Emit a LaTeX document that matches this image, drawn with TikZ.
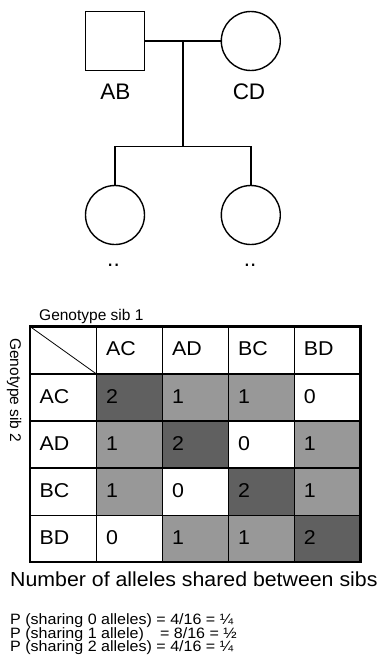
\documentclass[tikz,border=0pt]{standalone}
\usepackage{fontspec}
\setmainfont{Liberation Sans}
\definecolor{shareTwo}{RGB}{96,96,96}
\definecolor{shareOne}{RGB}{152,152,152}
\begin{document}
\begin{tikzpicture}[x=1pt,y=-1pt,
  pedline/.style={draw=black, line width=1.4pt},
  male/.style={pedline, rectangle, minimum width=59.5pt, minimum height=59.5pt, inner sep=0pt},
  female/.style={pedline, circle, minimum size=59pt, inner sep=0pt},
  pedlabel/.style={font=\fontsize{22.5}{26}\selectfont, inner sep=0pt, anchor=base},
  celltext/.style={font=\fontsize{20}{24}\selectfont, inner sep=0pt, anchor=base west, xscale=1.07},
  axistext/.style={font=\fontsize{15.5}{18}\selectfont, inner sep=0pt, anchor=base west},
  gridline/.style={draw=black, line width=1.2pt},
  frameline/.style={draw=black, line width=2.4pt},
  prob/.style={font=\fontsize{15}{18}\selectfont, inner sep=0pt, anchor=base west, xscale=1.07}
]
\useasboundingbox (0,0) rectangle (379,667);

% ---------- pedigree ----------
\node[male]   (father) at (115,41) {};
\node[female] (mother) at (250.8,41) {};
\node[female] (sibA)   at (115,215) {};
\node[female] (sibB)   at (250.8,215) {};
\coordinate (mate)    at (183,41);
\coordinate (sibship) at (183,146.7);

\draw[pedline] (father.east) -- (mother.west);
\draw[pedline] (mate) -- (sibship);
\draw[pedline, line join=miter] (sibA.north) |- (sibship) -| (sibB.north);

\node[pedlabel] (labAB) at (115.3,99) {AB};
\node[pedlabel] (labCD) at (249,99) {CD};
\node[pedlabel] (genA)  at (113.5,266) {..};
\node[pedlabel] (genB)  at (250,266) {..};

% ---------- sharing table ----------
% column edges: 30, 96.5, 162.5, 228.5, 294.2, 360.5
% row edges:    326.5, 374, 421, 468, 515.5, 562
\fill[shareTwo] (96.5,374)   rectangle (162.5,421);
\fill[shareOne] (162.5,374)  rectangle (228.5,421);
\fill[shareOne] (228.5,374)  rectangle (294.2,421);

\fill[shareOne] (96.5,421)   rectangle (162.5,468);
\fill[shareTwo] (162.5,421)  rectangle (228.5,468);
\fill[shareOne] (294.2,421)  rectangle (360.5,468);

\fill[shareOne] (96.5,468)   rectangle (162.5,515.5);
\fill[shareTwo] (228.5,468)  rectangle (294.2,515.5);
\fill[shareOne] (294.2,468)  rectangle (360.5,515.5);

\fill[shareOne] (162.5,515.5) rectangle (228.5,562);
\fill[shareOne] (228.5,515.5) rectangle (294.2,562);
\fill[shareTwo] (294.2,515.5) rectangle (360.5,562);

\coordinate (tl) at (30,326.5);
\coordinate (br) at (360.5,562);
\coordinate (cornerBR) at (96.5,374);

\foreach \cx in {96.5,162.5,228.5,294.2}
  \draw[gridline] (\cx,326.5) -- (\cx,562);
\foreach \ry in {374,421,468,515.5}
  \draw[gridline] (30,\ry) -- (360.5,\ry);
\draw[black, line width=0.8pt] (tl) -- (cornerBR);
\draw[frameline] (tl) rectangle (br);

% header row and header column
\node[celltext] (hAC) at (106,355.8) {AC};
\node[celltext] (hAD) at (172,355.8) {AD};
\node[celltext] (hBC) at (238,355.8) {BC};
\node[celltext] (hBD) at (303.7,355.8) {BD};

\node[celltext] (rAC) at (39.5,403) {AC};
\node[celltext] (rAD) at (39.5,450) {AD};
\node[celltext] (rBC) at (39.5,497.2) {BC};
\node[celltext] (rBD) at (39.5,544.2) {BD};

% alleles shared between the two sibs
\node[celltext] (v11) at (106,403) {2};
\node[celltext] (v12) at (172,403) {1};
\node[celltext] (v13) at (238,403) {1};
\node[celltext] (v14) at (303.7,403) {0};

\node[celltext] (v21) at (106,450) {1};
\node[celltext] (v22) at (172,450) {2};
\node[celltext] (v23) at (238,450) {0};
\node[celltext] (v24) at (303.7,450) {1};

\node[celltext] (v31) at (106,497.2) {1};
\node[celltext] (v32) at (172,497.2) {0};
\node[celltext] (v33) at (238,497.2) {2};
\node[celltext] (v34) at (303.7,497.2) {1};

\node[celltext] (v41) at (106,544.2) {0};
\node[celltext] (v42) at (172,544.2) {1};
\node[celltext] (v43) at (238,544.2) {1};
\node[celltext] (v44) at (303.7,544.2) {2};

% axis captions
\node[axistext] (sibOne) at (39,320.5) {Genotype sib 1};
\node[axistext, rotate=-90] (sibTwo) at (10,338) {Genotype sib 2};

% caption and probabilities
\node[font=\fontsize{20.3}{24}\selectfont, inner sep=0pt, anchor=base west, xscale=1.05]
  (caption) at (10,586.7) {Number of alleles shared between sibs};
\node[prob] (p0) at (10,624.3) {P (sharing 0 alleles) = 4/16 = ¼};
\node[prob] (p1) at (10,638)   {P (sharing 1 allele)\hspace{1em}= 8/16 = ½};
\node[prob] (p2) at (10,651.7) {P (sharing 2 alleles) = 4/16 = ¼};
\end{tikzpicture}
\end{document}
